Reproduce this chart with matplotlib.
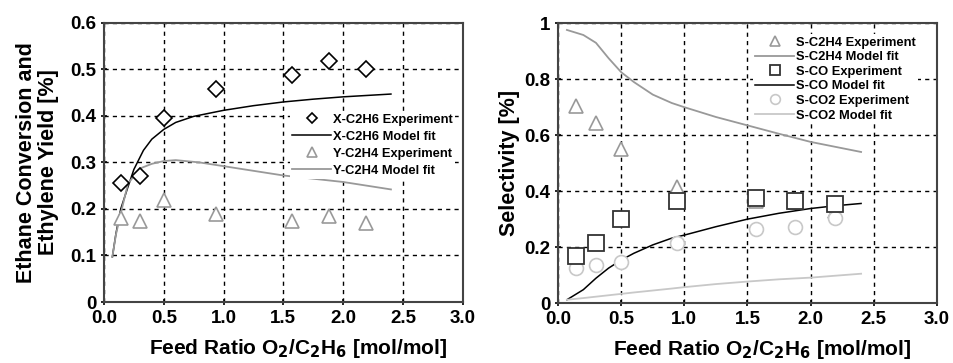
import numpy as np
import matplotlib.pyplot as plt

plt.rcParams['font.family'] = ['Liberation Sans', 'DejaVu Sans']
plt.rcParams['font.weight'] = 'bold'

# experimental feed ratios
feed = [0.14, 0.30, 0.50, 0.94, 1.57, 1.88, 2.19]

# left panel
x_c2h6_exp = [0.255, 0.27, 0.395, 0.457, 0.487, 0.517, 0.50]
y_c2h4_exp = [0.18, 0.175, 0.22, 0.19, 0.175, 0.185, 0.17]
fit_left = [0.07, 0.10, 0.14, 0.20, 0.25, 0.33, 0.40, 0.50, 0.60, 0.75, 1.0, 1.25, 1.5, 1.75, 2.0, 2.2, 2.4]
x_c2h6_fit = [0.097, 0.147, 0.20, 0.247, 0.285, 0.326, 0.350, 0.371, 0.386, 0.399, 0.412, 0.422, 0.430, 0.436, 0.441, 0.444, 0.447]
fit_left_y = [0.07, 0.10, 0.14, 0.20, 0.30, 0.40, 0.50, 0.60, 0.80, 1.0, 1.25, 1.5, 1.75, 2.0, 2.2, 2.4]
y_c2h4_fit = [0.097, 0.145, 0.19, 0.254, 0.287, 0.297, 0.303, 0.305, 0.300, 0.292, 0.282, 0.272, 0.265, 0.258, 0.250, 0.242]

# right panel
s_c2h4_exp = [0.705, 0.645, 0.55, 0.415, 0.365, 0.36, 0.33]
s_co_exp = [0.17, 0.215, 0.30, 0.365, 0.375, 0.365, 0.355]
s_co2_exp = [0.125, 0.137, 0.148, 0.214, 0.264, 0.271, 0.303]
fit_right = [0.07, 0.20, 0.30, 0.40, 0.50, 0.60, 0.75, 0.90, 1.0, 1.25, 1.5, 1.75, 2.0, 2.2, 2.4]
s_c2h4_fit = [0.976, 0.958, 0.930, 0.875, 0.825, 0.790, 0.745, 0.715, 0.700, 0.665, 0.635, 0.605, 0.576, 0.558, 0.540]
s_co_fit = [0.012, 0.048, 0.089, 0.125, 0.154, 0.178, 0.208, 0.232, 0.243, 0.273, 0.300, 0.321, 0.338, 0.348, 0.356]
s_co2_fit = [0.012, 0.018, 0.023, 0.028, 0.033, 0.038, 0.045, 0.052, 0.057, 0.068, 0.077, 0.085, 0.091, 0.098, 0.105]

fig = plt.figure(figsize=(9.54, 3.63), dpi=100)
ax1 = fig.add_axes([0.109, 0.168, 0.376, 0.769])
ax2 = fig.add_axes([0.585, 0.165, 0.397, 0.771])

ax1.plot(feed, x_c2h6_exp, 'D', mfc='white', mec='black', ms=8, mew=1.2, label='X-C2H6 Experiment', zorder=3)
ax1.plot(fit_left, x_c2h6_fit, '-', color='black', lw=1.1, label='X-C2H6 Model fit')
ax1.plot(feed, y_c2h4_exp, '^', mfc='white', mec='#999999', ms=10, mew=1.2, label='Y-C2H4 Experiment', zorder=3)
ax1.plot(fit_left_y, y_c2h4_fit, '-', color='#999999', lw=1.3, label='Y-C2H4 Model fit')
ax1.set_ylim(0, 0.6)
ax1.set_yticks(np.arange(0, 0.61, 0.1))
ax1.set_yticklabels(['0', '0.1', '0.2', '0.3', '0.4', '0.5', '0.6'])
ax1.set_ylabel('Ethane Conversion and\nEthylene Yield [%]', fontsize=15.5, fontweight='bold',
               labelpad=8, linespacing=1.05)
leg1 = ax1.legend(loc='upper left', bbox_to_anchor=(0.50, 0.707), frameon=True, fontsize=9.3,
                  handlelength=3.0, handletextpad=0.15, labelspacing=0.38, borderpad=0.2,
                  markerscale=0.7, fancybox=False)

ax2.plot(feed, s_c2h4_exp, '^', mfc='white', mec='#999999', ms=10, mew=1.2, label='S-C2H4 Experiment', zorder=3)
ax2.plot(fit_right, s_c2h4_fit, '-', color='#999999', lw=1.3, label='S-C2H4 Model fit')
ax2.plot(feed, s_co_exp, 's', mfc='white', mec='#333333', ms=11, mew=1.3, label='S-CO Experiment', zorder=4)
ax2.plot(fit_right, s_co_fit, '-', color='black', lw=1.1, label='S-CO Model fit')
ax2.plot(feed, s_co2_exp, 'o', mfc='white', mec='#c8c8c8', ms=10, mew=1.2, label='S-CO2 Experiment', zorder=3)
ax2.plot(fit_right, s_co2_fit, '-', color='#c8c8c8', lw=1.3, label='S-CO2 Model fit')
ax2.set_ylim(0, 1)
ax2.set_yticks(np.arange(0, 1.01, 0.2))
ax2.set_yticklabels(['0', '0.2', '0.4', '0.6', '0.8', '1'])
ax2.set_ylabel('Selectivity [%]', fontsize=15.5, fontweight='bold', labelpad=3)
leg2 = ax2.legend(loc='upper left', bbox_to_anchor=(0.497, 0.985), frameon=True, fontsize=9.3,
                  handlelength=3.0, handletextpad=0.15, labelspacing=0.2, borderpad=0.2,
                  markerscale=0.7, fancybox=False)

for leg in (leg1, leg2):
    leg.get_frame().set_edgecolor('none')
    leg.get_frame().set_facecolor('white')
    leg.get_frame().set_alpha(1.0)

for ax in (ax1, ax2):
    ax.set_xlim(0, 3.0)
    ax.set_xticks(np.arange(0, 3.01, 0.5))
    ax.set_xticklabels(['%.1f' % v for v in np.arange(0, 3.01, 0.5)])
    ax.set_xlabel('Feed Ratio O$_\\mathbf{2}$/C$_\\mathbf{2}$H$_\\mathbf{6}$ [mol/mol]', fontsize=15,
                  fontweight='bold')
    ax.xaxis.set_label_coords(0.54, -0.125)
    ax.grid(True, color='black', linestyle=(0, (3, 3)), lw=1.0)
    ax.tick_params(labelsize=13.5, direction='inout', length=5, width=1.2, pad=3)
    for s in ax.spines.values():
        s.set_linewidth(1.5)
        s.set_color('#444444')
    for lab in ax.get_xticklabels() + ax.get_yticklabels():
        lab.set_fontweight('bold')

fig.savefig('out.png', dpi=100)
